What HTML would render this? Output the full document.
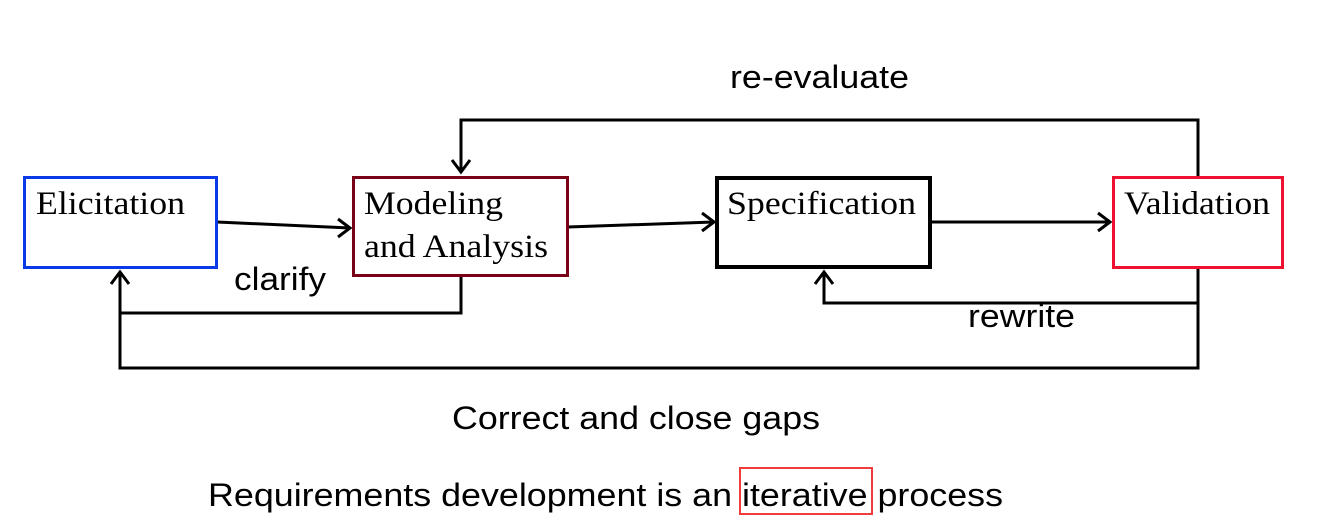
<!DOCTYPE html>
<html><head><style>
body{margin:0;width:1326px;height:518px;background:#fff;overflow:hidden}
svg{display:block}
.s{font-family:"Liberation Serif",serif;font-size:33px;fill:#000}
.a{font-family:"Liberation Sans",sans-serif;font-size:32px;fill:#000}
</style></head><body>
<svg width="1326" height="518" viewBox="0 0 1326 518">
<g fill="none" stroke="#000" stroke-width="3">
<polyline points="1198,176 1198,120 461,120 461,172"/>
<polyline points="452,160 461,172 470,160"/>
<polyline points="461,276 461,313 120,313"/>
<polyline points="1198,268 1198,368 120,368 120,272"/>
<polyline points="111,284 120,272 129,284"/>
<polyline points="1198,268 1198,303 824,303 824,272"/>
<polyline points="815,284 824,272 833,284"/>
<line x1="217" y1="222" x2="350" y2="228"/>
<polyline points="338,219 350,228 338,237"/>
<line x1="568" y1="227" x2="714" y2="222"/>
<polyline points="702,213 714,222 702,231"/>
<line x1="931" y1="222" x2="1110" y2="222"/>
<polyline points="1098,213 1110,222 1098,231"/>
</g>
<rect x="24.5" y="177.5" width="192" height="90" fill="#fff" stroke="#0a3ae8" stroke-width="3"/>
<rect x="353.5" y="177.5" width="214" height="98" fill="#fff" stroke="#7a0018" stroke-width="3"/>
<rect x="717" y="178" width="213" height="89" fill="#fff" stroke="#000" stroke-width="4"/>
<rect x="1113.5" y="177.5" width="169" height="90" fill="#fff" stroke="#f0102f" stroke-width="3"/>
<text class="s" x="36" y="214" textLength="149" lengthAdjust="spacingAndGlyphs">Elicitation</text>
<text class="s" x="364" y="214" textLength="139" lengthAdjust="spacingAndGlyphs">Modeling</text>
<text class="s" x="364" y="257" textLength="184" lengthAdjust="spacingAndGlyphs">and Analysis</text>
<text class="s" x="727" y="214" textLength="189" lengthAdjust="spacingAndGlyphs">Specification</text>
<text class="s" x="1124" y="214" textLength="146" lengthAdjust="spacingAndGlyphs">Validation</text>
<text class="a" x="730" y="88" textLength="179" lengthAdjust="spacingAndGlyphs">re-evaluate</text>
<text class="a" x="234" y="290" textLength="92" lengthAdjust="spacingAndGlyphs">clarify</text>
<text class="a" x="968" y="327" textLength="107" lengthAdjust="spacingAndGlyphs">rewrite</text>
<text class="a" x="452" y="429" textLength="368" lengthAdjust="spacingAndGlyphs">Correct and close gaps</text>
<text class="a" x="208" y="506" textLength="795" lengthAdjust="spacingAndGlyphs">Requirements development is an iterative process</text>
<rect x="740" y="468" width="132" height="46" fill="none" stroke="#f03c3c" stroke-width="2"/>
</svg>
</body></html>
